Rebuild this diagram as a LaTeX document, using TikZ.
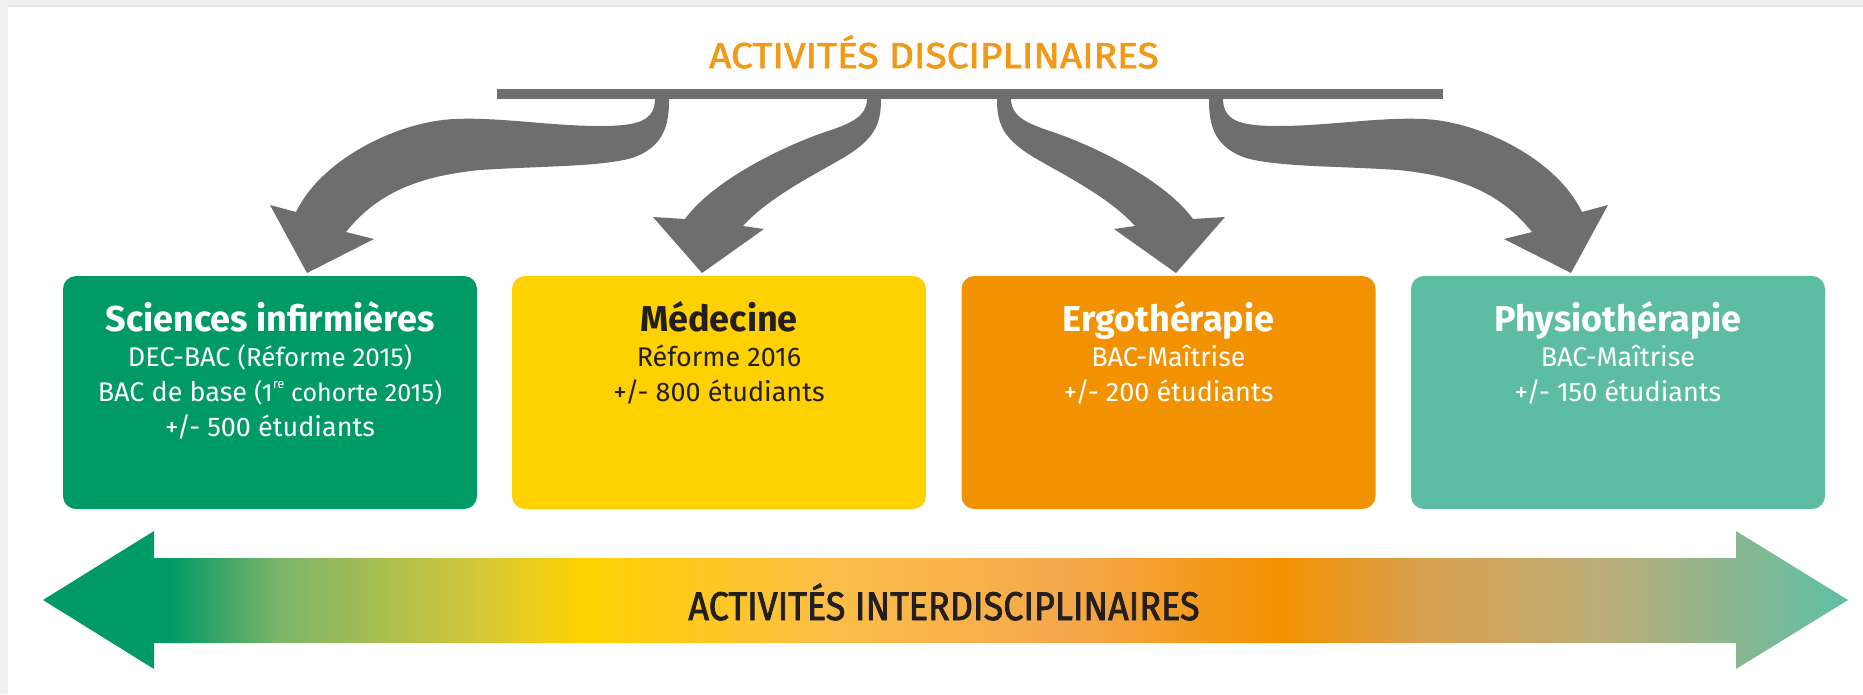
\documentclass[tikz,border=0pt]{standalone}
\usepackage{fontspec}
\setmainfont{Fira Sans}
\newfontfamily\headfont[FakeBold=2,FakeStretch=1.08]{Fira Sans}
\newfontfamily\interfont[FakeBold=2,FakeStretch=0.9]{Fira Sans}
\definecolor{cgreen}{HTML}{009A66}
\definecolor{cyellow}{HTML}{FFD100}
\definecolor{corange}{HTML}{F29200}
\definecolor{cteal}{HTML}{5DBDA3}
\definecolor{ctitle}{HTML}{F29A18}
\definecolor{cgray}{HTML}{6E6E6E}
\definecolor{cdark}{HTML}{231F20}
\definecolor{gA}{HTML}{009A66}
\definecolor{gB}{HTML}{7DB56A}
\definecolor{gC}{HTML}{D4C738}
\definecolor{gD}{HTML}{FFD200}
\definecolor{gE}{HTML}{FBBE48}
\definecolor{gF}{HTML}{F5A84C}
\definecolor{gG}{HTML}{F29100}
\definecolor{gH}{HTML}{D9A150}
\definecolor{gI}{HTML}{BCAD78}
\definecolor{gJ}{HTML}{5FBFA5}
\pgfdeclarehorizontalshading{interd}{100bp}{color(0bp)=(gA); color(28.5bp)=(gA); color(31.55bp)=(gB); color(37.1bp)=(gC); color(39.9bp)=(gD); color(46.85bp)=(gE); color(53.4bp)=(gF); color(59.3bp)=(gG); color(63.25bp)=(gH); color(68.2bp)=(gI); color(75bp)=(gJ); color(100bp)=(gJ)}
\tikzset{
  catbox/.style={rounded corners=13pt, minimum width=414pt, minimum height=233pt, inner sep=0pt, draw=none},
  boxtitle/.style={font=\bfseries\fontsize{36}{40}\selectfont, anchor=base, inner sep=0pt},
  boxline/.style={font=\fontsize{27}{32}\selectfont, anchor=base, inner sep=0pt},
  grayarrow/.style={fill=cgray, draw=none},
}
\newcommand\ArrowOuter{%
  \fill[grayarrow] (655,96) -- (655,100) .. controls (654,120) and (640,126) .. (600,126)
    .. controls (550,126) and (500,117) .. (455,119)
    .. controls (400,121) and (322,158) .. (296,212)
    -- (270,205) -- (307,273) -- (374,239) -- (346,232)
    .. controls (378,192) and (420,176) .. (480,170)
    .. controls (540,166) and (600,167) .. (632,158)
    .. controls (664,147) and (669,125) .. (669,100) -- (669,96) -- cycle;}
\newcommand\ArrowInner{%
  \fill[grayarrow] (867,96) -- (867,100) .. controls (866,116) and (853,123) .. (825,132)
    .. controls (776,149) and (711,183) .. (685,219)
    -- (653,217) -- (702,273) -- (764,229) -- (743,226)
    .. controls (768,198) and (812,176) .. (843,158)
    .. controls (873,140) and (881,126) .. (881,100) -- (881,96) -- cycle;}
\begin{document}
\begin{tikzpicture}[x=1pt,y=-1pt]
\useasboundingbox (0,0) rectangle (1863,694);
\fill[white] (0,0) rectangle (1863,694);
% light frame
\fill[black!6] (0,0) rectangle (1863,5);
\fill[black!10] (0,5) rectangle (1863,7);
\fill[black!6] (0,0) rectangle (8,694);
% title
\node[font=\headfont\fontsize{36}{40}\selectfont, text=ctitle, anchor=base, inner sep=0pt] (disc) at (934,68) {ACTIVITÉS DISCIPLINAIRES};
% bar
\fill[cgray] (497,89) rectangle (1443,99);
\coordinate (bar) at (970,94);
% curved arrows
\ArrowOuter
\ArrowInner
\begin{scope}[xshift=1878pt, xscale=-1]
\ArrowOuter
\ArrowInner
\end{scope}
% boxes
\node[catbox, fill=cgreen] (b1) at (270,392.5) {};
\node[catbox, fill=cyellow] (b2) at (719,392.5) {};
\node[catbox, fill=corange] (b3) at (1168.5,392.5) {};
\node[catbox, fill=cteal] (b4) at (1618,392.5) {};
% box texts
\node[boxtitle, text=white] (b1a) at (270,331) {Sciences infirmières};
\node[boxline, text=white] (b1b) at (270,366) {DEC-BAC {\fontsize{26}{30}\selectfont(Réforme 2015)}};
\node[boxline, text=white] (b1c) at (270,401) {BAC de base {\fontsize{25}{30}\selectfont(1\raisebox{0.5em}{\fontsize{13}{15}\selectfont re} cohorte 2015)}};
\node[boxline, text=white] (b1d) at (270,436) {+/- 500 étudiants};
\node[boxtitle, text=cdark] (b2a) at (719,331) {Médecine};
\node[boxline, text=cdark] (b2b) at (719,366) {Réforme 2016};
\node[boxline, text=cdark] (b2c) at (719,401) {+/- 800 étudiants};
\node[boxtitle, text=white] (b3a) at (1168.5,331) {Ergothérapie};
\node[boxline, text=white] (b3b) at (1168.5,366) {BAC-Maîtrise};
\node[boxline, text=white] (b3c) at (1168.5,401) {+/- 200 étudiants};
\node[boxtitle, text=white] (b4a) at (1618,331) {Physiothérapie};
\node[boxline, text=white] (b4b) at (1618,366) {BAC-Maîtrise};
\node[boxline, text=white] (b4c) at (1618,401) {+/- 150 étudiants};
% interdisciplinary double arrow
\shade[shading=interd] (43,600) -- (154,531) -- (154,558) -- (1736,558) -- (1736,531) -- (1848,600)
  -- (1736,669) -- (1736,643) -- (154,643) -- (154,669) -- cycle;
\node[font=\interfont\fontsize{40}{44}\selectfont, text=cdark, anchor=base, inner sep=0pt] (inter) at (944,620) {ACTIVITÉS INTERDISCIPLINAIRES};
\end{tikzpicture}
\end{document}
